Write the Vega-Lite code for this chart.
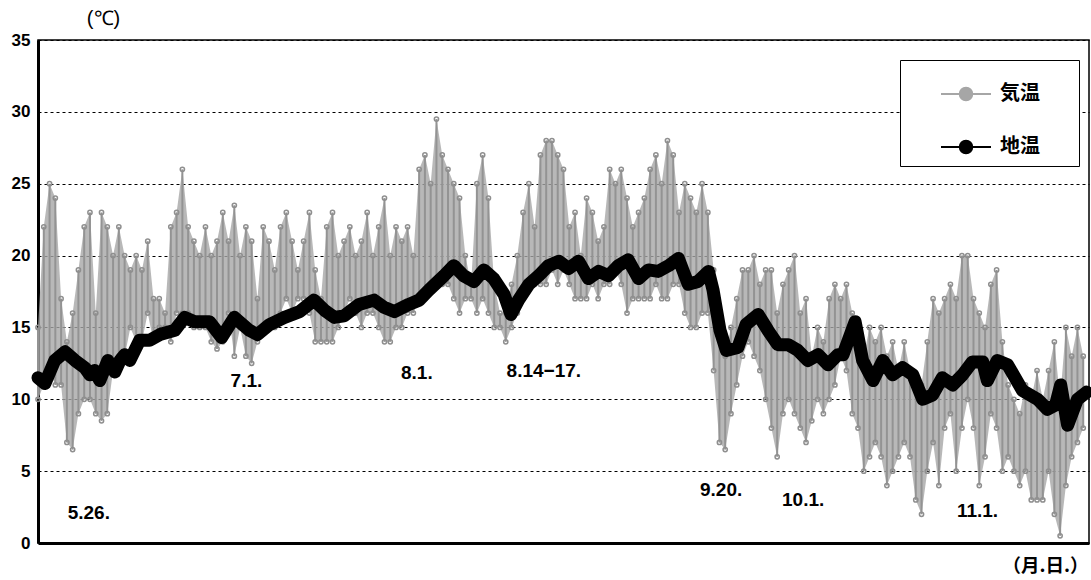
{
  "$schema": "https://vega.github.io/schema/vega-lite/v6.json",
  "width": 1051,
  "height": 503,
  "autosize": {"type": "none"},
  "padding": {"left": 38, "top": 40, "right": 2, "bottom": 37},
  "background": "white",
  "config": {
    "view": {"stroke": "black", "strokeWidth": 1.5},
    "font": "Liberation Sans"
  },
  "datasets": {
    "air": [
      {"d":0,"lo":10,"hi":15},{"d":1,"lo":11,"hi":22},{"d":2,"lo":12,"hi":25},{"d":3,"lo":11,"hi":24},{"d":4,"lo":11,"hi":17},
      {"d":5,"lo":7,"hi":14},{"d":6,"lo":6.5,"hi":16},{"d":7,"lo":9,"hi":19},{"d":8,"lo":10,"hi":22},{"d":9,"lo":10,"hi":23},
      {"d":10,"lo":9,"hi":16},{"d":11,"lo":8.5,"hi":23},{"d":12,"lo":9,"hi":22},{"d":13,"lo":12,"hi":20},{"d":14,"lo":13,"hi":22},
      {"d":15,"lo":13,"hi":20},{"d":16,"lo":15,"hi":19},{"d":17,"lo":14,"hi":20},{"d":18,"lo":14,"hi":19},{"d":19,"lo":16,"hi":21},
      {"d":20,"lo":14,"hi":17},{"d":21,"lo":15,"hi":17},{"d":22,"lo":15,"hi":16},{"d":23,"lo":14,"hi":22},{"d":24,"lo":16,"hi":23},
      {"d":25,"lo":16,"hi":26},{"d":26,"lo":16,"hi":22},{"d":27,"lo":15,"hi":21},{"d":28,"lo":15,"hi":20},{"d":29,"lo":15,"hi":22},
      {"d":30,"lo":14,"hi":20},{"d":31,"lo":13.5,"hi":21},{"d":32,"lo":14,"hi":23},{"d":33,"lo":16,"hi":21},{"d":34,"lo":13,"hi":23.5},
      {"d":35,"lo":15,"hi":20},{"d":36,"lo":13,"hi":22},{"d":37,"lo":12.5,"hi":21},{"d":38,"lo":14,"hi":17},{"d":39,"lo":15,"hi":22},
      {"d":40,"lo":15,"hi":21},{"d":41,"lo":15,"hi":19},{"d":42,"lo":16,"hi":22},{"d":43,"lo":17,"hi":23},{"d":44,"lo":16,"hi":21},
      {"d":45,"lo":17,"hi":19},{"d":46,"lo":17,"hi":21},{"d":47,"lo":16,"hi":23},{"d":48,"lo":14,"hi":19},{"d":49,"lo":14,"hi":17},
      {"d":50,"lo":14,"hi":22},{"d":51,"lo":14,"hi":23},{"d":52,"lo":15,"hi":20},{"d":53,"lo":16,"hi":21},{"d":54,"lo":17,"hi":22},
      {"d":55,"lo":16,"hi":20},{"d":56,"lo":15,"hi":21},{"d":57,"lo":16,"hi":23},{"d":58,"lo":16,"hi":20},{"d":59,"lo":15,"hi":22},
      {"d":60,"lo":14,"hi":24},{"d":61,"lo":14,"hi":20},{"d":62,"lo":15,"hi":22},{"d":63,"lo":15,"hi":21},{"d":64,"lo":16,"hi":22},
      {"d":65,"lo":16,"hi":20},{"d":66,"lo":17,"hi":26},{"d":67,"lo":17,"hi":27},{"d":68,"lo":18,"hi":25},{"d":69,"lo":18,"hi":29.5},
      {"d":70,"lo":18,"hi":27},{"d":71,"lo":18,"hi":26},{"d":72,"lo":17,"hi":25},{"d":73,"lo":16,"hi":24},{"d":74,"lo":17,"hi":20},
      {"d":75,"lo":17,"hi":18},{"d":76,"lo":16,"hi":25},{"d":77,"lo":17,"hi":27},{"d":78,"lo":16,"hi":24},{"d":79,"lo":15,"hi":18},
      {"d":80,"lo":15,"hi":16},{"d":81,"lo":14,"hi":16},{"d":82,"lo":15,"hi":18},{"d":83,"lo":16,"hi":20},{"d":84,"lo":17,"hi":23},
      {"d":85,"lo":18,"hi":25},{"d":86,"lo":18,"hi":22},{"d":87,"lo":18,"hi":27},{"d":88,"lo":18,"hi":28},{"d":89,"lo":19,"hi":28},
      {"d":90,"lo":18,"hi":27},{"d":91,"lo":19,"hi":26},{"d":92,"lo":18,"hi":22},{"d":93,"lo":17,"hi":23},{"d":94,"lo":17,"hi":20},
      {"d":95,"lo":17,"hi":24},{"d":96,"lo":18,"hi":23},{"d":97,"lo":17,"hi":21},{"d":98,"lo":18,"hi":22},{"d":99,"lo":18,"hi":26},
      {"d":100,"lo":19,"hi":25},{"d":101,"lo":18,"hi":26},{"d":102,"lo":16,"hi":24},{"d":103,"lo":17,"hi":22},{"d":104,"lo":17,"hi":23},
      {"d":105,"lo":17,"hi":24},{"d":106,"lo":17,"hi":26},{"d":107,"lo":18,"hi":27},{"d":108,"lo":17,"hi":25},{"d":109,"lo":17,"hi":28},
      {"d":110,"lo":18,"hi":27},{"d":111,"lo":18,"hi":23},{"d":112,"lo":16,"hi":25},{"d":113,"lo":15,"hi":24},{"d":114,"lo":15,"hi":23},
      {"d":115,"lo":16,"hi":25},{"d":116,"lo":16,"hi":23},{"d":117,"lo":12,"hi":19},{"d":118,"lo":7,"hi":16},{"d":119,"lo":6.5,"hi":13},
      {"d":120,"lo":9,"hi":15},{"d":121,"lo":11,"hi":17},{"d":122,"lo":13,"hi":19},{"d":123,"lo":14,"hi":19},{"d":124,"lo":13,"hi":20},
      {"d":125,"lo":12,"hi":18},{"d":126,"lo":10,"hi":19},{"d":127,"lo":8,"hi":19},{"d":128,"lo":6,"hi":16},{"d":129,"lo":9,"hi":18},
      {"d":130,"lo":10,"hi":19},{"d":131,"lo":9,"hi":20},{"d":132,"lo":8,"hi":16},{"d":133,"lo":7,"hi":17},{"d":134,"lo":8.5,"hi":13},
      {"d":135,"lo":10,"hi":15},{"d":136,"lo":9,"hi":14},{"d":137,"lo":10,"hi":17},{"d":138,"lo":11,"hi":18},{"d":139,"lo":13,"hi":17},
      {"d":140,"lo":12,"hi":18},{"d":141,"lo":9,"hi":16},{"d":142,"lo":8,"hi":14},{"d":143,"lo":5,"hi":13},{"d":144,"lo":6,"hi":15},
      {"d":145,"lo":7,"hi":14},{"d":146,"lo":6,"hi":15},{"d":147,"lo":4,"hi":13},{"d":148,"lo":5,"hi":14},{"d":149,"lo":6,"hi":12},
      {"d":150,"lo":7,"hi":14},{"d":151,"lo":6,"hi":12},{"d":152,"lo":3,"hi":11},{"d":153,"lo":2,"hi":11},{"d":154,"lo":5,"hi":14},
      {"d":155,"lo":7,"hi":17},{"d":156,"lo":4,"hi":16},{"d":157,"lo":8,"hi":17},{"d":158,"lo":9,"hi":18},{"d":159,"lo":5,"hi":17},
      {"d":160,"lo":8,"hi":20},{"d":161,"lo":10,"hi":20},{"d":162,"lo":8,"hi":17},{"d":163,"lo":4,"hi":16},{"d":164,"lo":6,"hi":15},
      {"d":165,"lo":9,"hi":18},{"d":166,"lo":8,"hi":19},{"d":167,"lo":5,"hi":14},{"d":168,"lo":6,"hi":11},{"d":169,"lo":5,"hi":10},
      {"d":170,"lo":4,"hi":9},{"d":171,"lo":5,"hi":11},{"d":172,"lo":3,"hi":10},{"d":173,"lo":3,"hi":12},{"d":174,"lo":3,"hi":10},
      {"d":175,"lo":5,"hi":12},{"d":176,"lo":2,"hi":14},{"d":177,"lo":0.5,"hi":10},{"d":178,"lo":4,"hi":15},{"d":179,"lo":6,"hi":13},
      {"d":180,"lo":7,"hi":15},{"d":181,"lo":8,"hi":13}
    ],
    "ground": [
      {"d":0,"v":11.5},{"d":1.2,"v":11.1},{"d":2.9,"v":12.7},{"d":4.7,"v":13.3},{"d":6.4,"v":12.7},{"d":8.1,"v":12.2},
      {"d":9.0,"v":11.7},{"d":9.8,"v":12.0},{"d":10.7,"v":11.3},{"d":12.1,"v":12.7},{"d":13.3,"v":11.9},{"d":14.2,"v":12.7},
      {"d":15.0,"v":13.1},{"d":15.9,"v":12.7},{"d":17.6,"v":14.1},{"d":19.3,"v":14.1},{"d":21.1,"v":14.5},{"d":23.7,"v":14.8},
      {"d":25.4,"v":15.7},{"d":27.1,"v":15.4},{"d":29.7,"v":15.4},{"d":31.8,"v":14.3},{"d":34.0,"v":15.7},{"d":36.6,"v":14.8},
      {"d":38.0,"v":14.5},{"d":40.1,"v":15.2},{"d":42.7,"v":15.7},{"d":45.3,"v":16.1},{"d":47.8,"v":16.9},{"d":49.6,"v":16.2},
      {"d":51.3,"v":15.7},{"d":53.0,"v":15.8},{"d":55.6,"v":16.6},{"d":58.2,"v":16.9},{"d":59.9,"v":16.4},{"d":61.7,"v":16.1},
      {"d":64.2,"v":16.6},{"d":66.0,"v":16.9},{"d":67.7,"v":17.6},{"d":70.3,"v":18.6},{"d":72.0,"v":19.3},{"d":73.7,"v":18.6},
      {"d":75.5,"v":18.2},{"d":77.2,"v":19.0},{"d":78.9,"v":18.4},{"d":80.7,"v":17.3},{"d":81.9,"v":15.9},{"d":83.2,"v":16.9},
      {"d":85.0,"v":18.0},{"d":86.7,"v":18.6},{"d":88.4,"v":19.3},{"d":90.2,"v":19.6},{"d":91.9,"v":19.1},{"d":93.6,"v":19.6},
      {"d":95.3,"v":18.4},{"d":97.1,"v":18.9},{"d":98.8,"v":18.6},{"d":100.5,"v":19.3},{"d":102.2,"v":19.7},{"d":104.0,"v":18.4},
      {"d":105.7,"v":19.0},{"d":107.4,"v":18.9},{"d":109.2,"v":19.3},{"d":110.9,"v":19.8},{"d":112.6,"v":18.0},{"d":114.3,"v":18.2},
      {"d":116.1,"v":18.9},{"d":116.9,"v":17.6},{"d":118.1,"v":14.8},{"d":119.2,"v":13.4},{"d":121.2,"v":13.6},{"d":122.6,"v":15.2},
      {"d":124.7,"v":15.9},{"d":126.4,"v":14.8},{"d":128.1,"v":13.8},{"d":129.9,"v":13.8},{"d":131.6,"v":13.4},{"d":133.3,"v":12.7},
      {"d":135.1,"v":13.1},{"d":136.8,"v":12.4},{"d":138.5,"v":13.1},{"d":139.4,"v":13.1},{"d":141.5,"v":15.4},{"d":142.8,"v":12.7},
      {"d":144.6,"v":11.3},{"d":146.3,"v":12.7},{"d":148.0,"v":11.7},{"d":149.7,"v":12.2},{"d":151.5,"v":11.7},{"d":153.2,"v":10.0},
      {"d":154.9,"v":10.3},{"d":156.6,"v":11.5},{"d":158.4,"v":11.0},{"d":160.1,"v":11.7},{"d":161.8,"v":12.6},{"d":163.6,"v":12.6},
      {"d":164.4,"v":11.3},{"d":166.1,"v":12.7},{"d":167.9,"v":12.4},{"d":170.5,"v":10.6},{"d":173.1,"v":10.0},{"d":174.8,"v":9.3},
      {"d":176.2,"v":9.6},{"d":177.1,"v":11.0},{"d":178.3,"v":8.2},{"d":180.0,"v":10.0},{"d":181.6,"v":10.5}
    ],
    "notes": [
      {"d":8.8,"v":2.1,"label":"5.26."},
      {"d":36.1,"v":11.3,"label":"7.1."},
      {"d":65.6,"v":11.8,"label":"8.1."},
      {"d":87.6,"v":12.0,"label":"8.14−17."},
      {"d":118.3,"v":3.7,"label":"9.20."},
      {"d":132.5,"v":3.0,"label":"10.1."},
      {"d":162.7,"v":2.2,"label":"11.1."}
    ]
  },
  "layer": [
    {
      "data": {"name": "air"},
      "mark": {"type": "area", "opacity": 0.8, "interpolate": "linear"},
      "encoding": {
        "x": {"field": "d", "type": "quantitative"},
        "y": {"field": "lo", "type": "quantitative"},
        "y2": {"field": "hi"},
        "color": {"datum": "気温"}
      }
    },
    {
      "data": {"name": "air"},
      "mark": {"type": "rule", "strokeWidth": 2, "color": "#939393"},
      "encoding": {
        "x": {"field": "d", "type": "quantitative"},
        "y": {"field": "lo", "type": "quantitative"},
        "y2": {"field": "hi"}
      }
    },
    {
      "data": {"name": "air"},
      "transform": [{"fold": ["lo", "hi"], "as": ["k", "v"]}],
      "mark": {"type": "point", "filled": false, "size": 18, "strokeWidth": 1.5, "color": "#8f8f8f", "opacity": 1},
      "encoding": {
        "x": {"field": "d", "type": "quantitative"},
        "y": {"field": "v", "type": "quantitative"}
      }
    },
    {
      "data": {"name": "ground"},
      "mark": {"type": "line", "strokeWidth": 13, "strokeJoin": "round", "strokeCap": "round"},
      "encoding": {
        "x": {"field": "d", "type": "quantitative"},
        "y": {"field": "v", "type": "quantitative"},
        "color": {"datum": "地温"}
      }
    },
    {
      "data": {"name": "notes"},
      "mark": {"type": "text", "fontSize": 19, "fontWeight": "bold", "font": "Liberation Sans", "color": "black", "align": "center", "baseline": "middle"},
      "encoding": {
        "x": {"field": "d", "type": "quantitative"},
        "y": {"field": "v", "type": "quantitative"},
        "text": {"field": "label"}
      }
    }
  ],
  "resolve": {"scale": {"color": "shared"}},
  "encoding": {
    "x": {
      "field": "d", "type": "quantitative",
      "scale": {"domain": [0, 182], "nice": false, "zero": false},
      "axis": {"labels": false, "ticks": false, "grid": false, "domain": true, "domainWidth": 3, "domainColor": "black",
        "title": "（月.日.）", "titleFont": "Noto Sans CJK JP", "titleFontSize": 18.5, "titleFontWeight": "bold",
        "titleX": 1007, "titleY": 22, "titleAlign": "center", "titleBaseline": "middle", "titleColor": "black"}
    },
    "y": {
      "field": "v", "type": "quantitative",
      "scale": {"domain": [0, 35], "nice": false},
      "axis": {"values": [0, 5, 10, 15, 20, 25, 30, 35], "ticks": false, "grid": true, "gridDash": [3, 3], "gridColor": "black", "gridWidth": 1, "gridOpacity": 1,
        "domain": true, "domainWidth": 3, "domainColor": "black", "labelFontSize": 17, "labelFontWeight": "bold", "labelColor": "black", "labelPadding": 8, "labelFont": "Liberation Sans",
        "title": "(℃)", "titleAngle": 0, "titleX": 65, "titleY": -22, "titleAlign": "center", "titleBaseline": "middle", "titleFontSize": 20, "titleFontWeight": "normal", "titleFont": "Liberation Sans", "titleColor": "black"}
    },
    "color": {
      "scale": {"domain": ["気温", "地温"], "range": ["#a6a6a6", "#000000"]},
      "legend": {
        "orient": "none", "legendX": 862, "legendY": 20,
        "title": "|", "titleOrient": "right", "titleFontSize": 10, "titlePadding": 28, "titleOpacity": 0,
        "strokeColor": "black", "fillColor": "white", "padding": 8,
        "symbolType": "M-1,0H1M0.25,0A0.25,0.25 0 1 1 -0.25,0A0.25,0.25 0 1 1 0.25,0Z",
        "symbolSize": 2500, "symbolStrokeWidth": 2, "symbolOffset": 32,
        "labelFont": "Noto Sans CJK JP", "labelFontSize": 20, "labelFontWeight": "bold", "labelColor": "black", "labelOffset": 8,
        "rowPadding": 16,
        "encode": {"symbols": {"update": {"fill": {"scale": "color", "field": "value"}, "stroke": {"scale": "color", "field": "value"}, "fillOpacity": {"value": 1}, "strokeOpacity": {"value": 1}, "opacity": {"value": 1}}}}
      }
    }
  }
}
